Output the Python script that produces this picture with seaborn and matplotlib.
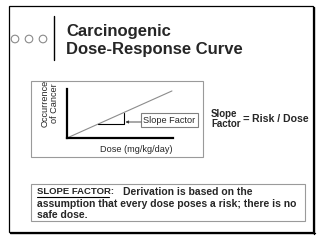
import matplotlib
matplotlib.use("Agg")
import matplotlib.pyplot as plt
import seaborn as sns
import pandas as pd
from matplotlib.patches import Rectangle, Circle
from matplotlib.lines import Line2D

# ---- data ----
dose = [0.0, 1.0]
occurrence = [0.0, 0.96]
tri_x = [0.30, 0.54, 0.54]
tri_y = [0.288, 0.288, 0.518]

title_lines = ["Carcinogenic", "Dose-Response Curve"]
x_label = "Dose (mg/kg/day)"
y_label = "Occurrence\nof Cancer"
callout = "Slope Factor"
formula_left = ["Slope", "Factor"]
formula_right = "Risk / Dose"
note_head = "SLOPE FACTOR:"
note_lines = ["Derivation is based on the",
              "assumption that every dose poses a risk; there is no",
              "safe dose."]

sns.set_theme(style="white")
plt.rcParams['font.family'] = ['Liberation Sans', 'DejaVu Sans']

W, H = 320, 241
fig = plt.figure(figsize=(W / 100, H / 100), dpi=100)
fig.patch.set_facecolor("white")

# overlay axes in pixel coordinates
ov = fig.add_axes([0, 0, 1, 1])
ov.set_xlim(0, W)
ov.set_ylim(H, 0)
ov.axis("off")

# outer frame with shadow
ov.add_patch(Rectangle((9, 6), 304, 226, fill=False, ec="black", lw=0.9))
ov.add_line(Line2D([314, 314], [7, 233.5], color="black", lw=1.0))
ov.add_line(Line2D([10, 314.5], [233, 233], color="black", lw=1.0))

# circles + divider
for cx in (15, 29, 43):
    ov.add_patch(Circle((cx, 39), 3.8, fill=False, ec="#8a8a8a", lw=0.8))
ov.add_line(Line2D([54, 54], [16, 60], color="black", lw=1.0))

# title
ov.text(66, 31.5, title_lines[0], fontsize=12, fontweight="bold", va="center", ha="left")
ov.text(66, 49.5, title_lines[1], fontsize=12, fontweight="bold", va="center", ha="left")

# chart frame
ov.add_patch(Rectangle((31, 81), 172, 76, fill=False, ec="#9a9a9a", lw=0.8))

# callout box + arrow
ov.add_patch(Rectangle((141, 113), 57, 14, fill=False, ec="#808080", lw=0.8))
ov.text(169.5, 120.5, callout, fontsize=6.6, va="center", ha="center")
ov.annotate("", xy=(125.5, 122), xytext=(141, 122),
            arrowprops=dict(arrowstyle="-|>", color="#333333", lw=0.6,
                            mutation_scale=4, shrinkA=0, shrinkB=0))

# axis labels
ov.text(50, 103, y_label, fontsize=6.6, rotation=90, va="center", ha="center",
        linespacing=1.05)
ov.text(136, 149, x_label, fontsize=6.6, va="center", ha="center")

# formula
ov.text(211, 114, formula_left[0], fontsize=7.0, fontweight="bold",
        va="center", ha="left")
ov.text(211, 124, formula_left[1], fontsize=7.0, fontweight="bold",
        va="center", ha="left")
ov.text(245.5, 119, "=", fontsize=8, fontweight="bold", va="center", ha="center")
ov.text(309, 119, formula_right, fontsize=7.6, fontweight="bold", va="center", ha="right")

# note box
ov.add_patch(Rectangle((31, 184), 274, 37, fill=False, ec="#9a9a9a", lw=0.8))
ov.text(37, 192, note_head, fontsize=6.8, fontweight="bold", va="center", ha="left")
ov.add_line(Line2D([37, 109], [197, 197], color="black", lw=0.8))
ov.text(123, 192, note_lines[0], fontsize=7.5, fontweight="bold", va="center", ha="left")
ov.text(37, 204, note_lines[1], fontsize=7.5, fontweight="bold", va="center", ha="left")
ov.text(37, 215.5, note_lines[2], fontsize=7.5, fontweight="bold", va="center", ha="left")

# chart axes (pixel 67..173 x, 89..138 y)
ax = fig.add_axes([67 / W, 1 - 138 / H, 106 / W, 49 / H])
ax.patch.set_alpha(0)
df = pd.DataFrame({"dose": dose, "occurrence": occurrence})
sns.lineplot(data=df, x="dose", y="occurrence", ax=ax, color="#8c8c8c", lw=0.8)
ax.plot(tri_x, tri_y, color="black", lw=0.8)
ax.set_xlim(0, 1.01)
ax.set_ylim(0, 1)
ax.set_xticks([])
ax.set_yticks([])
ax.set_xlabel("")
ax.set_ylabel("")
for s in ("top", "right"):
    ax.spines[s].set_visible(False)
for s in ("left", "bottom"):
    ax.spines[s].set_color("black")
    ax.spines[s].set_linewidth(1.6)

fig.savefig("out.png", dpi=100)
